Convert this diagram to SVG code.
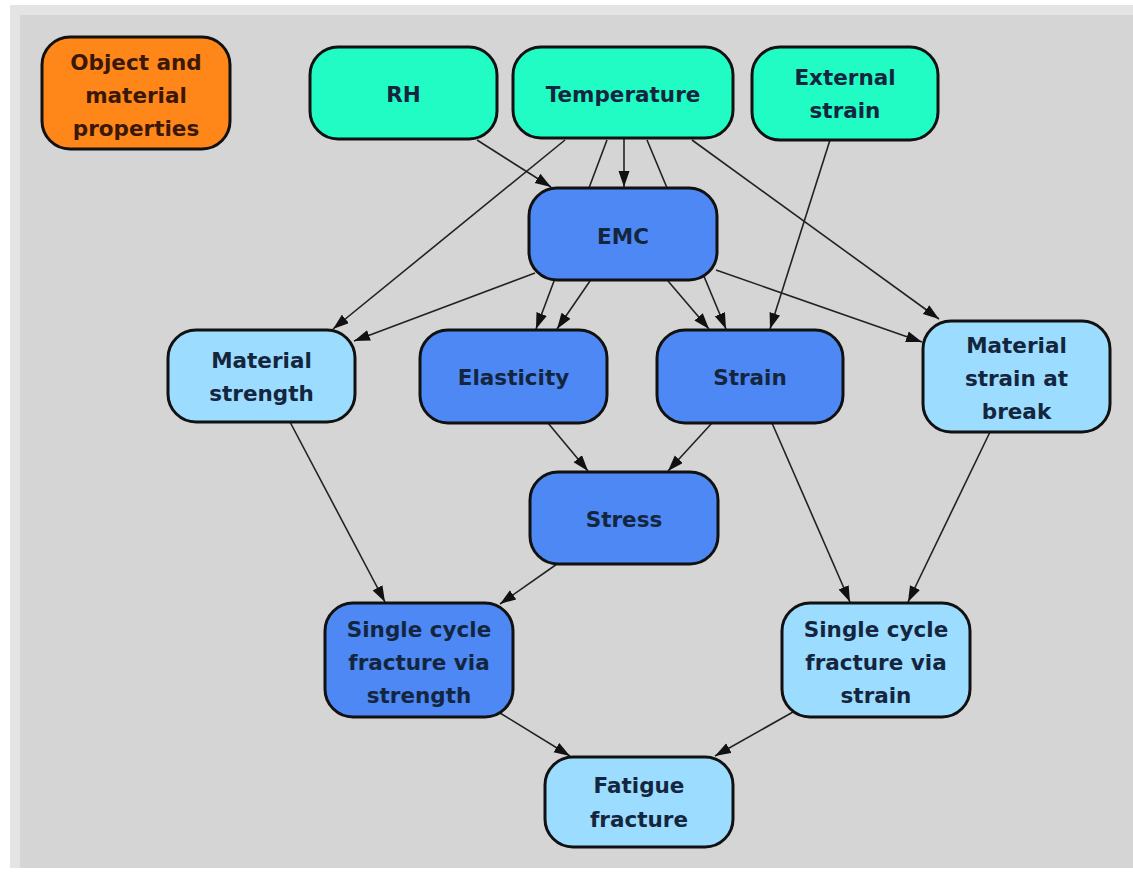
<svg xmlns="http://www.w3.org/2000/svg" width="1133" height="874" viewBox="0 0 1133 874">
  <style>
    .node { stroke: #111; stroke-width: 3; }
    .input { fill: #20fcc4; }
    .inner { fill: #4d88f4; }
    .outer { fill: #9cdcff; }
    .legend { fill: #ff8618; }
    .label { font-family: "DejaVu Sans", "Liberation Sans", sans-serif; font-weight: bold; font-size: 21.5px; fill: #14263e; text-anchor: middle; }
    .legend-label { fill: #3a1808; }
    .edge { stroke: #222; stroke-width: 1.6; fill: none; marker-end: url(#arrow); }
  </style>
  <defs>
    <marker id="arrow" markerUnits="userSpaceOnUse" markerWidth="17" markerHeight="12" refX="16" refY="5.5" orient="auto">
      <path d="M0,0 L16,5.5 L0,11 z" fill="#111"/>
    </marker>
  </defs>

  <!-- canvas -->
  <rect x="0" y="0" width="1133" height="874" fill="#ffffff"/>
  <rect x="10" y="5" width="1123" height="863" fill="#e4e4e4"/>
  <rect x="20" y="15" width="1113" height="853" fill="#d5d5d5"/>

  <!-- connectors -->
  <g id="connectors">
    <path class="edge" d="M477,140 L551,187"/>
    <path class="edge" d="M624,138 L624,187"/>
    <path class="edge" d="M565,140 L333,329"/>
    <path class="edge" d="M607,140 L536,329"/>
    <path class="edge" d="M647,140 L726,329"/>
    <path class="edge" d="M692,140 L939,319"/>
    <path class="edge" d="M830,140 L770,329"/>
    <path class="edge" d="M535,273 L354,341"/>
    <path class="edge" d="M590,281 L557,329"/>
    <path class="edge" d="M668,281 L709,329"/>
    <path class="edge" d="M716,270 L922,342"/>
    <path class="edge" d="M548,423 L588,471"/>
    <path class="edge" d="M712,423 L668,471"/>
    <path class="edge" d="M290,422 L385,602"/>
    <path class="edge" d="M557,564 L500,604"/>
    <path class="edge" d="M772,423 L850,602"/>
    <path class="edge" d="M990,432 L908,602"/>
    <path class="edge" d="M500,713 L570,756"/>
    <path class="edge" d="M793,712 L715,756"/>
  </g>

  <!-- nodes -->
  <g id="object-material-properties">
    <rect class="node legend" x="42" y="37" width="188" height="112" rx="28"/>
    <text class="label legend-label" x="136" y="70">Object and</text>
    <text class="label legend-label" x="136" y="103">material</text>
    <text class="label legend-label" x="136" y="136">properties</text>
  </g>
  <g id="rh">
    <rect class="node input" x="310" y="47" width="187" height="92" rx="28"/>
    <text class="label" x="403.5" y="102">RH</text>
  </g>
  <g id="temperature">
    <rect class="node input" x="513" y="47" width="220" height="91" rx="28"/>
    <text class="label" x="623" y="102">Temperature</text>
  </g>
  <g id="external-strain">
    <rect class="node input" x="752" y="47" width="186" height="93" rx="28"/>
    <text class="label" x="845" y="85">External</text>
    <text class="label" x="845" y="118">strain</text>
  </g>
  <g id="emc">
    <rect class="node inner" x="529" y="188" width="188" height="92" rx="28"/>
    <text class="label" x="623" y="244">EMC</text>
  </g>
  <g id="material-strength">
    <rect class="node outer" x="168" y="330" width="187" height="92" rx="28"/>
    <text class="label" x="261.5" y="368">Material</text>
    <text class="label" x="261.5" y="401">strength</text>
  </g>
  <g id="elasticity">
    <rect class="node inner" x="420" y="330" width="187" height="93" rx="28"/>
    <text class="label" x="513.5" y="385">Elasticity</text>
  </g>
  <g id="strain">
    <rect class="node inner" x="657" y="330" width="186" height="93" rx="28"/>
    <text class="label" x="750" y="385">Strain</text>
  </g>
  <g id="material-strain-at-break">
    <rect class="node outer" x="923" y="321" width="187" height="111" rx="28"/>
    <text class="label" x="1016.5" y="353">Material</text>
    <text class="label" x="1016.5" y="386">strain at</text>
    <text class="label" x="1016.5" y="419">break</text>
  </g>
  <g id="stress">
    <rect class="node inner" x="530" y="472" width="188" height="92" rx="28"/>
    <text class="label" x="624" y="527">Stress</text>
  </g>
  <g id="single-cycle-fracture-strength">
    <rect class="node inner" x="325" y="603" width="188" height="114" rx="28"/>
    <text class="label" x="419" y="637">Single cycle</text>
    <text class="label" x="419" y="670">fracture via</text>
    <text class="label" x="419" y="703">strength</text>
  </g>
  <g id="single-cycle-fracture-strain">
    <rect class="node outer" x="782" y="603" width="188" height="114" rx="28"/>
    <text class="label" x="876" y="637">Single cycle</text>
    <text class="label" x="876" y="670">fracture via</text>
    <text class="label" x="876" y="703">strain</text>
  </g>
  <g id="fatigue-fracture">
    <rect class="node outer" x="545" y="757" width="188" height="90" rx="28"/>
    <text class="label" x="639" y="793">Fatigue</text>
    <text class="label" x="639" y="827">fracture</text>
  </g>
</svg>
